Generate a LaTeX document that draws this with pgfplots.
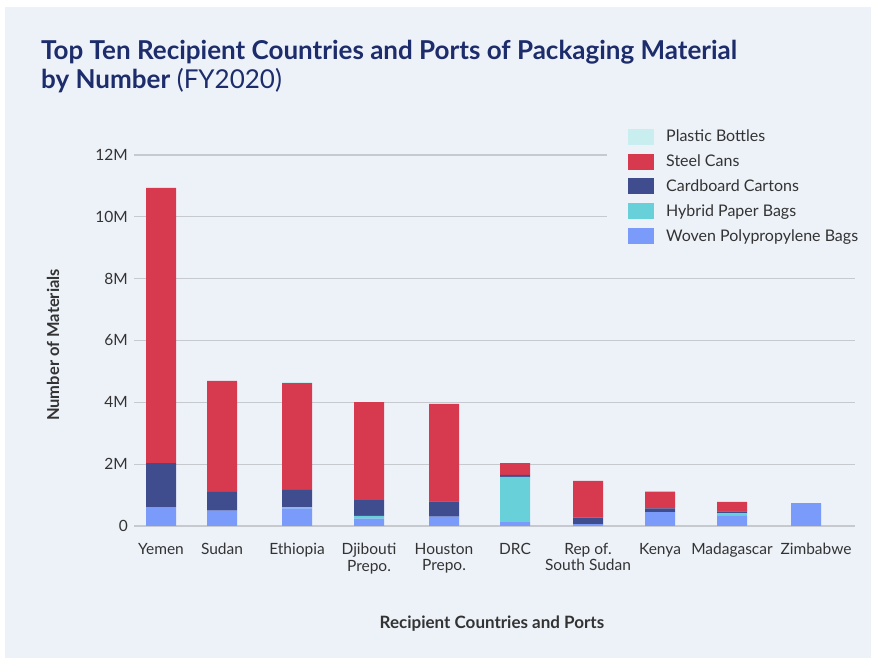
\documentclass[border=0pt]{standalone}
\usepackage{fontspec}
\setmainfont{Lato}
\usepackage{pgfplots}
\pgfplotsset{compat=1.18}
\definecolor{panel}{HTML}{EDF2F9}
\definecolor{cplastic}{HTML}{C9EEF0}
\definecolor{csteel}{HTML}{D7394F}
\definecolor{ccard}{HTML}{3F4D8F}
\definecolor{chybrid}{HTML}{67D0D9}
\definecolor{cwoven}{HTML}{7B9BFB}
\definecolor{ctitle}{HTML}{1D2C6B}
\definecolor{ctext}{HTML}{333333}
\definecolor{cgrid}{HTML}{C6C9CE}
\begin{document}
\begin{tikzpicture}
\fill[white] (0pt,0pt) rectangle (871pt,658pt);
\useasboundingbox (0pt,0pt) rectangle (871pt,658pt);
\fill[panel] (5pt,0pt) rectangle (871pt,651pt);
\node[anchor=base west, inner sep=0pt, text=ctitle, font=\fontsize{26}{30}\selectfont] at (41pt,598pt) {\textbf{Top Ten Recipient Countries and Ports of Packaging Material}};
\node[anchor=base west, inner sep=0pt, text=ctitle, font=\fontsize{26}{30}\selectfont] at (41pt,569pt) {\textbf{by Number} (FY2020)};
\begin{axis}[
  at={(134pt,132pt)}, anchor=south west,
  scale only axis, width=721pt, height=371pt,
  ybar stacked, bar width=30pt,
  xmin=134, xmax=855, ymin=0, ymax=12,
  axis line style={draw=none},
  major tick length=0pt,
  ymajorgrids, grid style={cgrid, line width=1.1pt},
  ytick={0,2,4,6,8,10,12},
  yticklabels={0,2M,4M,6M,8M,10M,12M},
  xtick={161,222,297,369,444,515,588,660,732,806},
  xticklabels={Yemen,Sudan,Ethiopia,{Djibouti\\Prepo.},{Houston\\Prepo.},DRC,{Rep of.\\South Sudan},Kenya,Madagascar,\hspace*{20pt}Zimbabwe},
  xticklabel style={anchor=north, yshift=-17pt, align=center, inner sep=0pt, text=ctext, font=\fontsize{15.5}{16.5}\selectfont},
  yticklabel style={anchor=east, inner sep=0pt, xshift=-6pt, text=ctext, font=\fontsize{15.5}{16.5}\selectfont},
  xlabel={\textbf{Recipient Countries and Ports}},
  ylabel={\textbf{Number of Materials}},
  xlabel style={at={(axis description cs:0.4965,-0.2776)}, anchor=base, inner sep=0pt, text=ctext, font=\fontsize{17}{19}\selectfont},
  ylabel style={at={(axis description cs:-0.1123,0.4879)}, anchor=center, inner sep=0pt, text=ctext, font=\fontsize{16.5}{18}\selectfont},
  reverse legend,
  legend cell align=left,
  legend image code/.code={\fill[#1] (0pt,-8pt) rectangle (26pt,8pt);},
  legend style={at={(axis description cs:0.6560,1.0890)}, anchor=north west,
    fill=panel, draw=none, inner xsep=21pt, inner ysep=6pt,
    font=\fontsize{16}{17}\selectfont, text=ctext,
    row sep=7.5pt,
    /tikz/every odd column/.append style={column sep=10pt},
    /tikz/every even column/.append style={column sep=0pt}},
  clip=false,
]
% Woven Polypropylene Bags
\addplot[fill=cwoven, draw=none] coordinates {(161,0.61) (222,0.50) (297,0.57) (369,0.24) (444,0.30) (515,0.15) (588,0.06) (660,0.45) (732,0.33) (806,0.74)};
% Hybrid Paper Bags
\addplot[fill=chybrid, draw=none] coordinates {(161,0) (222,0) (297,0.04) (369,0.09) (444,0) (515,1.44) (588,0) (660,0) (732,0.08) (806,0)};
% Cardboard Cartons
\addplot[fill=ccard, draw=none] coordinates {(161,1.42) (222,0.60) (297,0.56) (369,0.51) (444,0.50) (515,0.06) (588,0.21) (660,0.12) (732,0.06) (806,0)};
% Steel Cans
\addplot[fill=csteel, draw=none] coordinates {(161,8.91) (222,3.59) (297,3.45) (369,3.17) (444,3.15) (515,0.38) (588,1.19) (660,0.54) (732,0.31) (806,0)};
% Plastic Bottles
\addplot[fill=cplastic, draw=none] coordinates {(161,0) (222,0) (297,0.05) (369,0) (444,0) (515,0) (588,0) (660,0) (732,0) (806,0)};
\legend{Woven Polypropylene Bags,Hybrid Paper Bags,Cardboard Cartons,Steel Cans,Plastic Bottles}
\end{axis}
\end{tikzpicture}
\end{document}
